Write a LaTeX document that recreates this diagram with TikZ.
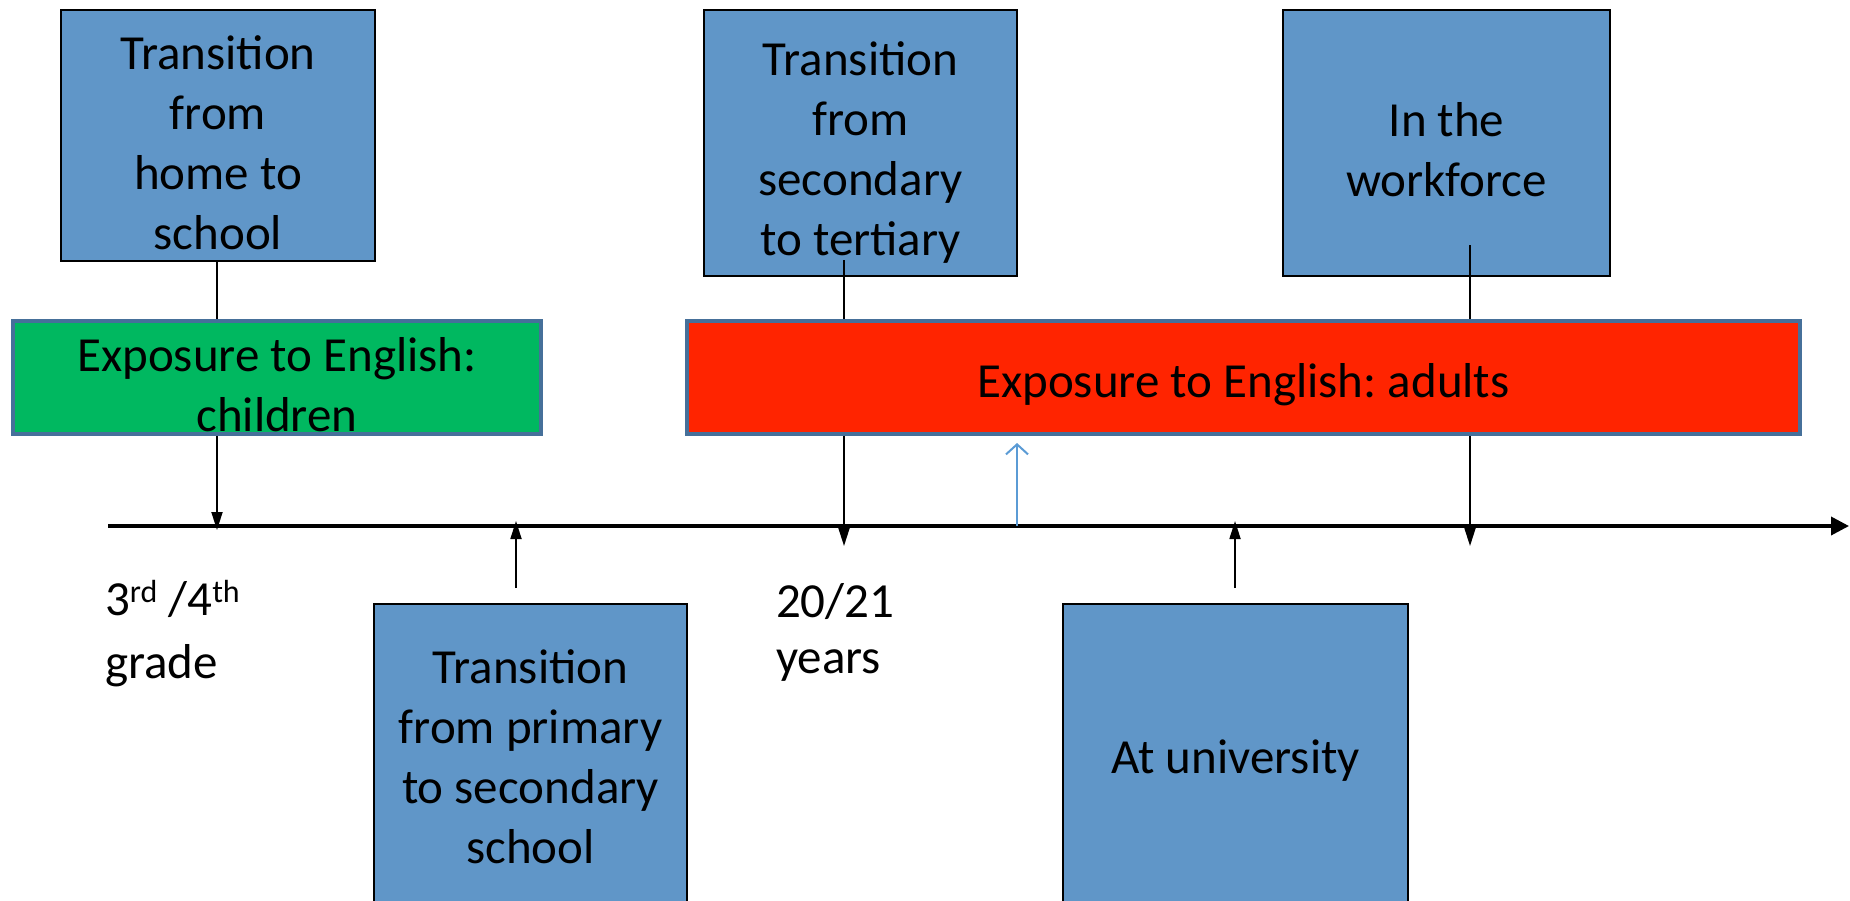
\documentclass[tikz,border=0pt]{standalone}
\usepackage{fontspec}
\setmainfont{Carlito}
\frenchspacing
\usetikzlibrary{arrows.meta}
\definecolor{boxblue}{HTML}{6096C8}
\definecolor{bargreen}{HTML}{00B860}
\definecolor{barred}{HTML}{FF2400}
\definecolor{barborder}{HTML}{46709A}
\definecolor{arrowblue}{HTML}{5B9BD5}
\newcommand{\supx}[1]{\raisebox{6.5pt}{\fontsize{16}{16}\selectfont #1}}
\newcommand{\lowr}{\rule{0pt}{24pt}}
\begin{document}
\begin{tikzpicture}[x=0.5pt,y=-0.5pt,
  font=\fontsize{24.5}{30}\selectfont,
  bluebox/.style={draw=black, line width=1.2pt, fill=boxblue, inner sep=0pt, align=center},
  bar/.style={draw=barborder, line width=2.2pt, inner sep=0pt, align=center},
  link/.style={line width=0.9pt},
  tick/.style={link, -{Triangle[length=9pt,width=5.5pt]}},
  axisline/.style={line width=1.8pt, -{Triangle[length=9pt,width=9pt]}},
  bluearrow/.style={draw=arrowblue, line width=1pt, -{Straight Barb[length=5pt,width=11pt]}},
  lab/.style={anchor=base west, align=left}]
\clip (0,0) rectangle (1850,900);
% boxes
\node[bluebox, minimum width=157pt, minimum height=125.5pt] (b1) at (218,135.5) {\lowr Transition\\from\\home to\\school};
\node[bluebox, minimum width=156.5pt, minimum height=133pt] (b3) at (860.5,143) {\rule{0pt}{26pt}Transition\\from\\secondary\\to tertiary};
\node[bluebox, minimum width=163.5pt, minimum height=133pt] (b4) at (1446.5,143) {\lowr In the\\workforce};
\node[bluebox, minimum width=156.5pt, minimum height=153pt] (b2) at (530.5,757) {Transition\\from primary\\to secondary\\school};
\node[bluebox, minimum width=172.5pt, minimum height=157pt] (b5) at (1235.5,761) {At university};
\node[bar, fill=bargreen, minimum width=264pt, minimum height=56.5pt] (green) at (277,377.5) {\lowr Exposure to English:\\children};
\node[bar, fill=barred, minimum width=556.5pt, minimum height=56.5pt] (red) at (1243.5,377.5) {\lowr Exposure to English: adults};
% axis
\coordinate (axL) at (108,526);
\coordinate (axR) at (1849,526);
\draw[axisline] (axL) -- (axR);
% connectors
\coordinate (t1) at (217,530);
\draw[link] (b1.south -| t1) -- (green.north -| t1);
\draw[tick] (green.south -| t1) -- (t1);
\coordinate (s3) at (844,260);
\coordinate (t3) at (844,546);
\draw[link] (s3) -- (red.north -| s3);
\draw[tick] (red.south -| s3) -- (t3);
\coordinate (s4) at (1470,245);
\coordinate (t4) at (1470,546);
\draw[link] (s4) -- (red.north -| s4);
\draw[tick] (red.south -| s4) -- (t4);
\coordinate (u2) at (516,588);
\coordinate (v2) at (516,521);
\draw[tick] (u2) -- (v2);
\coordinate (u5) at (1235,588);
\coordinate (v5) at (1235,521);
\draw[tick] (u5) -- (v5);
\coordinate (w0) at (1017,526);
\coordinate (w1) at (1017,443);
\draw[bluearrow] (w0) -- (w1);
% labels (base anchor = baseline of the last line)
\node[lab, font=\fontsize{24.5}{31.5}\selectfont] (grade) at (98,678) {3\supx{rd} /4\supx{th}\\grade};
\node[lab, font=\fontsize{24.5}{28}\selectfont] (years) at (769,673) {20/21\\years};
\end{tikzpicture}
\end{document}
